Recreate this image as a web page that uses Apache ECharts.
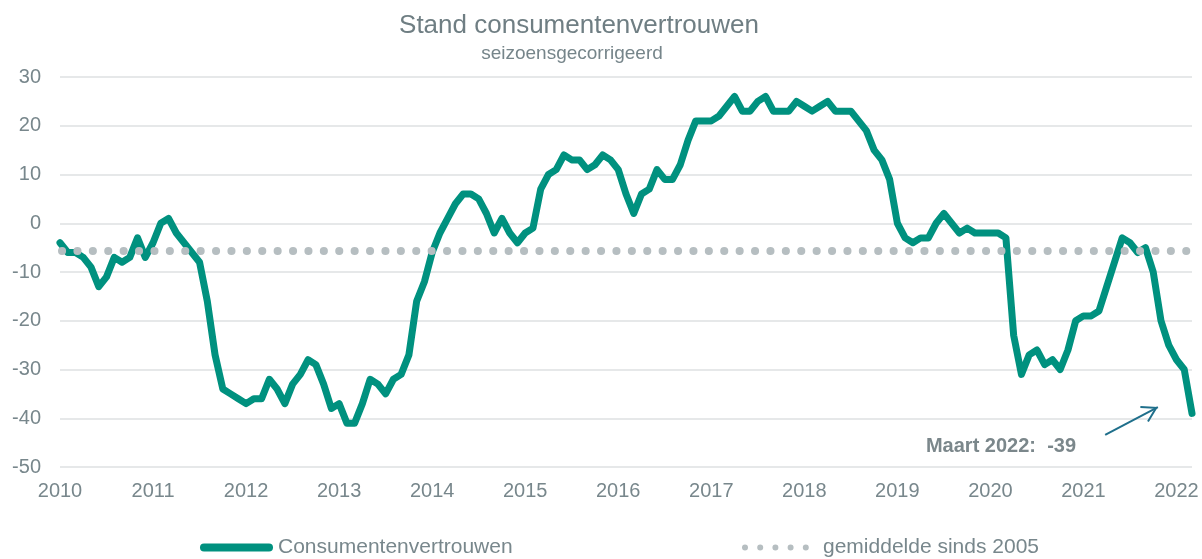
<!DOCTYPE html>
<html>
<head>
<meta charset="utf-8">
<script src="https://cdn.jsdelivr.net/npm/echarts/dist/echarts.min.js"></script>
<style>
html,body{margin:0;padding:0;background:#ffffff;}
#chart{width:1202px;height:559px;}
</style>
</head>
<body>
<div id="chart"></div>
<script>
// ---- data (monthly, Jan 2010 - Mar 2022) ----
const seriesName = 'Consumentenvertrouwen';
const averageName = 'gemiddelde sinds 2005';
const yearLabels = ['2010','2011','2012','2013','2014','2015','2016','2017','2018','2019','2020','2021','2022'];
const v2010 = [-4, -6, -6, -7, -9, -13, -11, -7, -8, -7, -3, -7];
const v2011 = [-4, 0, 1, -2, -4, -6, -8, -16, -27, -34, -35, -36];
const v2012 = [-37, -36, -36, -32, -34, -37, -33, -31, -28, -29, -33, -38];
const v2013 = [-37, -41, -41, -37, -32, -33, -35, -32, -31, -27, -16, -12];
const v2014 = [-6, -2, 1, 4, 6, 6, 5, 2, -2, 1, -2, -4];
const v2015 = [-2, -1, 7, 10, 11, 14, 13, 13, 11, 12, 14, 13];
const v2016 = [11, 6, 2, 6, 7, 11, 9, 9, 12, 17, 21, 21];
const v2017 = [21, 22, 24, 26, 23, 23, 25, 26, 23, 23, 23, 25];
const v2018 = [24, 23, 24, 25, 23, 23, 23, 21, 19, 15, 13, 9];
const v2019 = [0, -3, -4, -3, -3, 0, 2, 0, -2, -1, -2, -2];
const v2020 = [-2, -2, -3, -23, -31, -27, -26, -29, -28, -30, -26, -20];
const v2021 = [-19, -19, -18, -13, -8, -3, -4, -6, -5, -10, -20, -25];
const v2022 = [-28, -30, -39];
const averageSince2005 = -5.7;
const annotationText = 'Maart 2022:  -39';
// arrow annotation in data coordinates [month index, value]
const arrowFrom = [134.8, -43.4];
const arrowTo = [141.6, -37.7];

const confidence = [].concat(v2010, v2011, v2012, v2013, v2014, v2015, v2016, v2017, v2018, v2019, v2020, v2021, v2022);
const lineData = confidence.map((v, i) => [i, v]);
const avgData = confidence.map((v, i) => [i, averageSince2005]);
const lastIndex = confidence.length - 1;

// ---- styles ----
const FONT = '"Liberation Sans", Arial, Helvetica, sans-serif';
const TEXT = '#78878c';
const TEAL = '#00917f';
const DOT = '#b6bec1';

const capsulePath = 'path://M4,0 L69,0 A4,4 0 0 1 69,8 L4,8 A4,4 0 0 1 4,0 Z';
const dotsPath = 'path://' +
  'M0,3 A3,3 0 1 0 6,3 A3,3 0 1 0 0,3 Z ' +
  'M15.2,3 A3,3 0 1 0 21.2,3 A3,3 0 1 0 15.2,3 Z ' +
  'M30.4,3 A3,3 0 1 0 36.4,3 A3,3 0 1 0 30.4,3 Z ' +
  'M45.6,3 A3,3 0 1 0 51.6,3 A3,3 0 1 0 45.6,3 Z ' +
  'M60.8,3 A3,3 0 1 0 66.8,3 A3,3 0 1 0 60.8,3 Z ' +
  'M76,3 L76,3.01 Z';
const arrowHeadPath = 'path://M9,0 L9,0.01 Z M9,16 L18,31 L16.3,32 L9,19.8 L1.7,32 L0,31 Z';

const chart = echarts.init(document.getElementById('chart'), null, {renderer: 'canvas'});
chart.setOption({
  animation: false,
  backgroundColor: '#ffffff',
  textStyle: {fontFamily: FONT},
  grid: {left: 60, right: 10, top: 77, bottom: 92, containLabel: false, outerBoundsMode: 'none'},
  graphic: [
    {type: 'text', x: 579, y: 26, silent: true,
     style: {text: 'Stand consumentenvertrouwen', fontSize: 26, fontFamily: FONT, fill: '#6f7e83',
             align: 'center', verticalAlign: 'middle', textAlign: 'center', textVerticalAlign: 'middle'}},
    {type: 'text', x: 572, y: 54, silent: true,
     style: {text: 'seizoensgecorrigeerd', fontSize: 19, fontFamily: FONT, fill: '#76858a',
             align: 'center', verticalAlign: 'middle', textAlign: 'center', textVerticalAlign: 'middle'}},
    {type: 'text', x: 1001, y: 446, silent: true,
     style: {text: annotationText, fontSize: 20, fontWeight: 'bold', fontFamily: FONT, fill: '#7b878b',
             align: 'center', verticalAlign: 'middle', textAlign: 'center', textVerticalAlign: 'middle'}}
  ],
  legend: [
    {left: 200, top: 537, padding: 0, itemGap: 0, selectedMode: false,
     data: [seriesName], icon: capsulePath, itemWidth: 73, itemHeight: 8, symbolKeepAspect: false,
     itemStyle: {borderWidth: 0}, textStyle: {fontSize: 21, color: TEXT, fontFamily: FONT}},
    {left: 742, top: 537, padding: 0, itemGap: 0, selectedMode: false,
     data: [averageName], icon: dotsPath, itemWidth: 76, itemHeight: 6, symbolKeepAspect: false,
     itemStyle: {borderWidth: 0}, textStyle: {fontSize: 21, color: TEXT, fontFamily: FONT}}
  ],
  xAxis: {
    type: 'value', min: 0, max: lastIndex, interval: 12,
    axisLine: {show: false}, axisTick: {show: false}, splitLine: {show: false},
    axisLabel: {
      fontSize: 20, color: TEXT, margin: 14, showMaxLabel: false, showMinLabel: true,
      formatter: v => (v % 12 === 0 && yearLabels[v / 12]) ? yearLabels[v / 12] : ''
    }
  },
  yAxis: {
    type: 'value', min: -50, max: 30, interval: 10,
    axisLine: {show: false}, axisTick: {show: false},
    axisLabel: {fontSize: 20, color: TEXT, margin: 19},
    splitLine: {lineStyle: {color: '#e6e8e9', width: 2}}
  },
  series: [
    {
      name: seriesName, type: 'line', data: lineData, symbol: 'none', showSymbol: false, z: 2,
      lineStyle: {color: TEAL, width: 7, cap: 'round', join: 'round'},
      itemStyle: {color: TEAL},
      emphasis: {disabled: true},
      markLine: {
        silent: true, animation: false,
        symbol: ['none', arrowHeadPath], symbolSize: [18, 32],
        label: {show: false},
        lineStyle: {color: '#1f6f8b', width: 2, type: 'solid'},
        itemStyle: {color: '#1f6f8b'},
        emphasis: {disabled: true},
        data: [[{coord: arrowFrom}, {coord: arrowTo}]]
      }
    },
    {
      name: averageName, type: 'line', data: avgData, symbol: 'none', showSymbol: false, z: 3,
      lineStyle: {color: DOT, width: 8, type: [0.1, 15.3], cap: 'round', dashOffset: -2},
      itemStyle: {color: DOT},
      emphasis: {disabled: true}
    }
  ]
});
</script>
</body>
</html>
